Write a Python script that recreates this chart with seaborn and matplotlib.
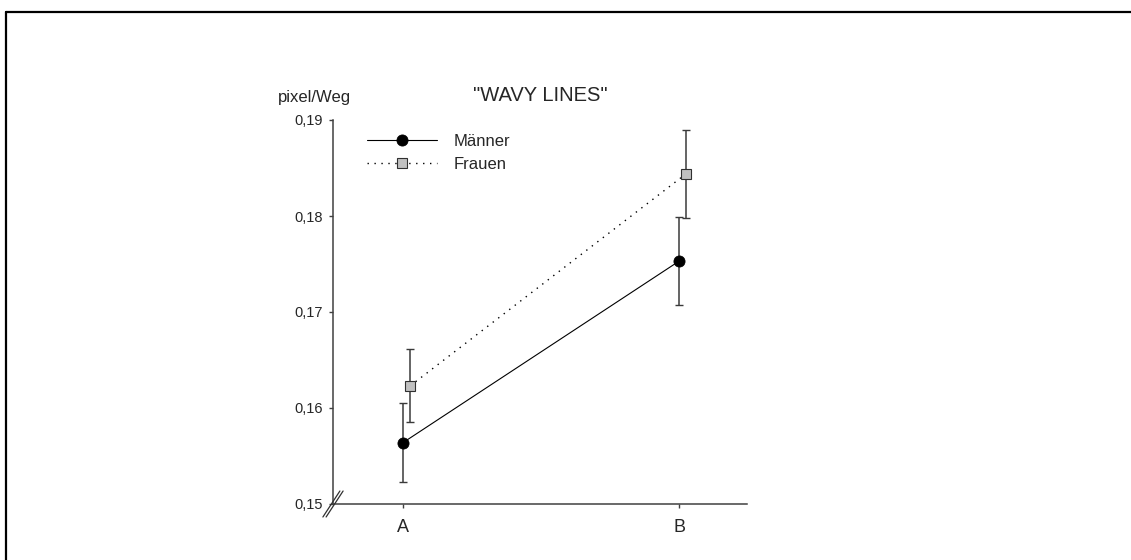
import matplotlib
matplotlib.use("Agg")
import matplotlib.pyplot as plt
from matplotlib.lines import Line2D
from matplotlib.ticker import FuncFormatter
import numpy as np
import pandas as pd
import seaborn as sns

# --- data -------------------------------------------------------------
groups = ["A", "B"]
maenner_mean = [0.1564, 0.1753]
maenner_err = [0.0041, 0.0046]
frauen_mean = [0.1623, 0.1844]
frauen_err = [0.0038, 0.0046]
y_ticks = [0.15, 0.16, 0.17, 0.18, 0.19]

# --- style ------------------------------------------------------------
sns.set_style("white")
plt.rcParams["font.family"] = ["Liberation Sans", "DejaVu Sans"]
plt.rcParams["axes.linewidth"] = 1.1

W, H = 1131, 560
fig = plt.figure(figsize=(W / 100, H / 100), dpi=100)
ax = fig.add_axes([333 / W, 56 / H, 414 / W, 384 / H])

pos = np.arange(len(groups), dtype=float)
shift = 0.0254  # small horizontal dodge for the second group

df_m = pd.DataFrame({"x": pos, "y": maenner_mean})
df_f = pd.DataFrame({"x": pos + shift, "y": frauen_mean})

# error bars underneath the markers
ax.errorbar(pos, maenner_mean, yerr=maenner_err, fmt="none", ecolor="#3a3a3a",
            elinewidth=1.1, capsize=2.6, capthick=1.0, zorder=2)
ax.errorbar(pos + shift, frauen_mean, yerr=frauen_err, fmt="none", ecolor="#3a3a3a",
            elinewidth=1.1, capsize=2.6, capthick=1.0, zorder=2)

sns.lineplot(data=df_m, x="x", y="y", ax=ax, color="black", linewidth=0.8,
             marker="o", markersize=8, markerfacecolor="black",
             markeredgecolor="black", markeredgewidth=0.6, zorder=3,
             label="Männer", legend=False)
h_m = ax.lines[-1]
sns.lineplot(data=df_f, x="x", y="y", ax=ax, color="black", linewidth=1.0,
             linestyle=(0, (1, 4)), marker="s", markersize=6.8,
             markerfacecolor="#c0c0c0", markeredgecolor="#303030",
             markeredgewidth=0.8, zorder=3, label="Frauen", legend=False)
h_f = ax.lines[-1]

# --- axes -------------------------------------------------------------
ax.set_xlim(-0.254, 1.246)
ax.set_ylim(0.15, 0.19)
ax.set_xticks(pos)
ax.set_xticklabels(groups)
ax.set_yticks(y_ticks)
ax.yaxis.set_major_formatter(FuncFormatter(lambda v, _: f"{v:.2f}".replace(".", ",")))
ax.set_xlabel("")
ax.set_ylabel("")

for side in ("top", "right"):
    ax.spines[side].set_visible(False)
for side in ("left", "bottom"):
    ax.spines[side].set_color("#404040")
    ax.spines[side].set_linewidth(1.1)

ax.tick_params(axis="y", direction="out", length=3, width=1.0, color="#404040",
               pad=4.5, labelsize=10.5, left=True)
ax.tick_params(axis="x", direction="out", length=3, width=1.0, color="#404040",
               pad=8, labelsize=13, bottom=True)

ax.set_title('"WAVY LINES"', fontsize=14.5, pad=14)
ax.annotate("pixel/Weg", xy=(0, 1), xycoords="axes fraction",
            xytext=(-19, 18), textcoords="offset pixels",
            ha="center", va="baseline", fontsize=12)

# axis break marks at the origin
aw, ah = 414.0, 384.0
for off in (-1.6, 1.6):
    ax.add_line(Line2D([(-8.5 + off) / aw, (8.5 + off) / aw], [-13 / ah, 13 / ah],
                       transform=ax.transAxes, color="#303030", linewidth=0.9,
                       clip_on=False, zorder=5))

# --- legend -----------------------------------------------------------
leg = ax.legend(handles=[h_m, h_f], labels=["Männer", "Frauen"],
                loc="upper left", bbox_to_anchor=(0.0814, 0.964),
                frameon=False, fontsize=12, handlelength=4.2,
                handletextpad=1.0, labelspacing=0.47, borderpad=0,
                borderaxespad=0)

# frame lines along the top and left edge of the figure
fig.add_artist(Line2D([6 / W, 1.0], [1 - 12 / H, 1 - 12 / H], transform=fig.transFigure,
                      color="black", linewidth=1.6))
fig.add_artist(Line2D([6 / W, 6 / W], [0.0, 1 - 12 / H], transform=fig.transFigure,
                      color="black", linewidth=1.6))

fig.savefig("out.png", dpi=100, facecolor="white")
